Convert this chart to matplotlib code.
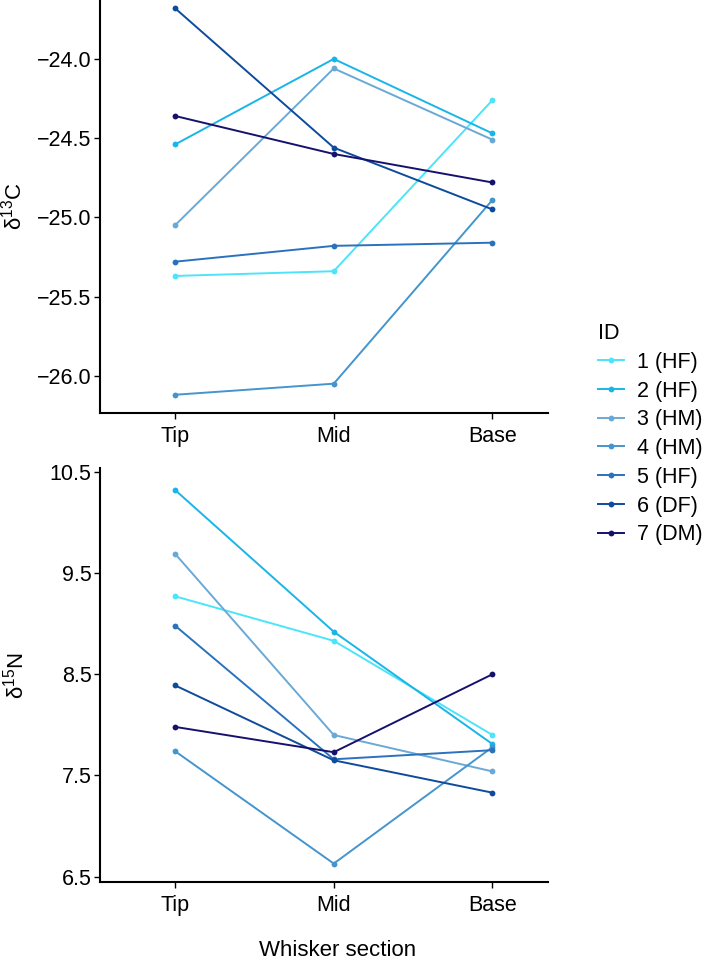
import matplotlib
matplotlib.use("Agg")
import matplotlib.pyplot as plt
from matplotlib.lines import Line2D

plt.rcParams['font.family'] = ['Liberation Sans', 'DejaVu Sans']
plt.rcParams['mathtext.fontset'] = 'custom'
plt.rcParams['mathtext.rm'] = 'Liberation Sans'
plt.rcParams['mathtext.it'] = 'Liberation Sans'

# Data
sections = ['Tip', 'Mid', 'Base']
ids = ['1 (HF)', '2 (HF)', '3 (HM)', '4 (HM)', '5 (HF)', '6 (DF)', '7 (DM)']
colors = ['#4ce4fa', '#1ab5e8', '#6aa9d6', '#4495cd', '#2a72bd', '#0e4b9c', '#16116e']

d13c = [
    [-25.37, -25.34, -24.26],
    [-24.54, -24.00, -24.47],
    [-25.05, -24.06, -24.51],
    [-26.12, -26.05, -24.89],
    [-25.28, -25.18, -25.16],
    [-23.68, -24.56, -24.95],
    [-24.36, -24.60, -24.78],
]
d15n = [
    [9.27, 8.83, 7.90],
    [10.32, 8.92, 7.81],
    [9.69, 7.90, 7.54],
    [7.74, 6.63, 7.78],
    [8.98, 7.66, 7.75],
    [8.39, 7.65, 7.33],
    [7.98, 7.73, 8.50],
]

W, H = 709, 963
fig = plt.figure(figsize=(W / 100, H / 100), dpi=100)

ax1 = fig.add_axes([100 / W, 1 - 413.3 / H, 448 / W, 413.3 / H])
ax2 = fig.add_axes([100 / W, 1 - 882.3 / H, 448 / W, (882.3 - 468) / H])

x = [1, 2, 3]
for ax, data in [(ax1, d13c), (ax2, d15n)]:
    for i, vals in enumerate(data):
        ax.plot(x, vals, color=colors[i], lw=1.4, marker='o', ms=4.2,
                markeredgewidth=0, label=ids[i])
    ax.set_xlim(0.527, 3.35)
    ax.set_xticks(x)
    ax.set_xticklabels(sections)
    for s in ['top', 'right']:
        ax.spines[s].set_visible(False)
    for s in ['left', 'bottom']:
        ax.spines[s].set_linewidth(1.5)
        ax.spines[s].set_color('black')
    ax.tick_params(axis='both', length=4, width=1.0, labelsize=15.5,
                   color='black', pad=2)
    ax.tick_params(axis='x', pad=5)

ax1.set_ylim(-26.237, -23.628)
ax1.set_yticks([-26.0, -25.5, -25.0, -24.5, -24.0])
ax1.set_yticklabels(['\u221226.0', '\u221225.5', '\u221225.0', '\u221224.5', '\u221224.0'])
ax1.set_ylabel('δ$^{13}$C', fontsize=16)
ax1.yaxis.set_label_coords(-0.163, 0.5)

ax2.set_ylim(6.445, 10.537)
ax2.set_yticks([6.5, 7.5, 8.5, 9.5, 10.5])
ax2.set_yticklabels(['6.5', '7.5', '8.5', '9.5', '10.5'])
ax2.set_ylabel('δ$^{15}$N', fontsize=16)
ax2.yaxis.set_label_coords(-0.16, 0.5)

fig.text(338 / W, 1 - 950 / H, 'Whisker section', ha='center', va='center', fontsize=16)

handles = [Line2D([], [], color=c, lw=1.4, marker='o', ms=4.2, markeredgewidth=0)
           for c in colors]
leg = fig.legend(handles, ids, loc='upper left', bbox_to_anchor=(598 / W, 1 - 323 / H),
                 frameon=False, fontsize=15.5, title='ID', title_fontsize=15.5,
                 handlelength=1.2, handletextpad=0.6, labelspacing=0.36,
                 alignment='left', borderpad=0, borderaxespad=0)

fig.savefig('out.png', dpi=100)
